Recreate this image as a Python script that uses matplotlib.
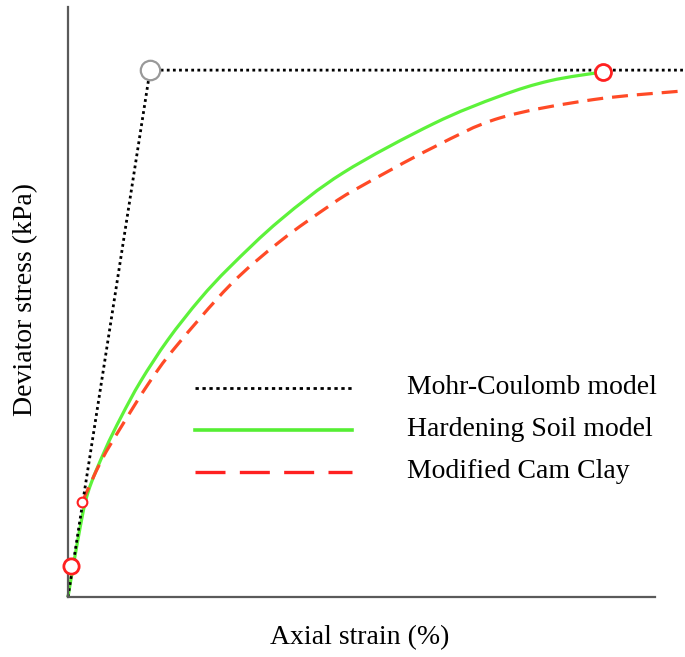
import matplotlib
matplotlib.use("Agg")
import matplotlib.pyplot as plt
import numpy as np
from matplotlib.lines import Line2D
from matplotlib.path import Path
from matplotlib.patches import PathPatch

# data (arbitrary units 0-100)
mc_x = [0, 13.3, 100]
mc_y = [0, 89.3, 89.3]

hs_x = [0, 1.6, 3.2, 6.0, 8.6, 11.8, 16.2, 21.4, 26.3, 34.4, 44.6, 59.2, 70.0, 78.1, 86.7]
hs_y = [0, 9.7, 17.6, 24.9, 30.5, 36.6, 43.6, 50.5, 56.0, 63.9, 71.9, 80.2, 84.9, 87.5, 89.0]

mcc_x = [2.3, 5.4, 8.6, 13.0, 17.3, 26.3, 34.4, 42.5, 46.8, 59.2, 70.0, 85.1, 100]
mcc_y = [16.1, 23.1, 28.8, 36.1, 42.2, 52.9, 60.3, 66.4, 69.2, 76.2, 81.2, 84.3, 85.8]

labels = ["Mohr-Coulomb model", "Hardening Soil model", "Modified Cam Clay"]

# marked points
peak_mc = (13.3, 89.3)
peak_hs = (86.7, 89.0)
start_hs = (0.5, 5.3)
start_mcc = (2.3, 16.1)

green = "#5df23a"
red = "#ff4a26"


def smooth_path(xs, ys):
    # cubic bezier through the points (catmull-rom tangents)
    p = np.column_stack([xs, ys]).astype(float)
    n = len(p)
    verts = [p[0]]
    codes = [Path.MOVETO]
    for i in range(n - 1):
        a = p[i - 1] if i > 0 else p[i]
        b = p[i]
        c = p[i + 1]
        d = p[i + 2] if i + 2 < n else p[i + 1]
        verts += [b + (c - a) / 6, c - (d - b) / 6, c]
        codes += [Path.CURVE4] * 3
    return Path(verts, codes)


fig = plt.figure(figsize=(6.85, 6.57), dpi=100)
ax = fig.add_axes([68/685, 60/657, 617/685, 590/657])
ax.set_xlim(0, 100)
ax.set_ylim(0, 100)

ax.plot(mc_x, mc_y, color="black", lw=2.0, linestyle=(0, (1.0, 1.2)), clip_on=False)
ax.add_patch(PathPatch(smooth_path(hs_x, hs_y), fill=False, edgecolor=green, lw=2.3,
                       clip_on=False))
ax.add_patch(PathPatch(smooth_path(mcc_x, mcc_y), fill=False, edgecolor=red, lw=2.3,
                       linestyle=(0, (5, 2.8)), clip_on=False))

ax.plot(*peak_mc, "o", ms=14, mfc="white", mec="#999999", mew=1.6, zorder=5, clip_on=False)
ax.plot(*peak_hs, "o", ms=11.5, mfc="white", mec="#ff2020", mew=2.0, zorder=5, clip_on=False)
ax.plot(*start_hs, "o", ms=11, mfc="white", mec="#ff2020", mew=2.0, zorder=5, clip_on=False)
ax.plot(*start_mcc, "o", ms=7, mfc="white", mec="#ff2020", mew=1.5, zorder=5, clip_on=False)

for s in ["top", "right"]:
    ax.spines[s].set_visible(False)
for s in ["left", "bottom"]:
    ax.spines[s].set_color("#5a5a5a")
    ax.spines[s].set_linewidth(1.6)
ax.spines["bottom"].set_bounds(0, 95.1)
ax.set_xticks([])
ax.set_yticks([])

# legend drawn by hand
styles = [
    dict(color="black", lw=2.0, linestyle=(0, (1.2, 1.3))),
    dict(color="#55ee33", lw=2.6),
    dict(color="#ff2020", lw=2.4, linestyle=(0, (9, 4.3))),
]
ys = [1 - 388/657, 1 - 430/657, 1 - 472/657]
for st, yy, lab in zip(styles, ys, labels):
    fig.add_artist(Line2D([195/685, 352/685], [yy, yy], transform=fig.transFigure, **st))
    fig.text(407/685, yy, lab, family="Liberation Serif", fontsize=20, va="center", ha="left")

fig.text(360/685, 1 - 638/657, "Axial strain (%)", family="Liberation Serif",
         fontsize=20, ha="center", va="center")
fig.text(26/685, 1 - 300/657, "Deviator stress (kPa)", family="Liberation Serif",
         fontsize=20, ha="center", va="center", rotation=90)

fig.savefig("out.png", dpi=100)
